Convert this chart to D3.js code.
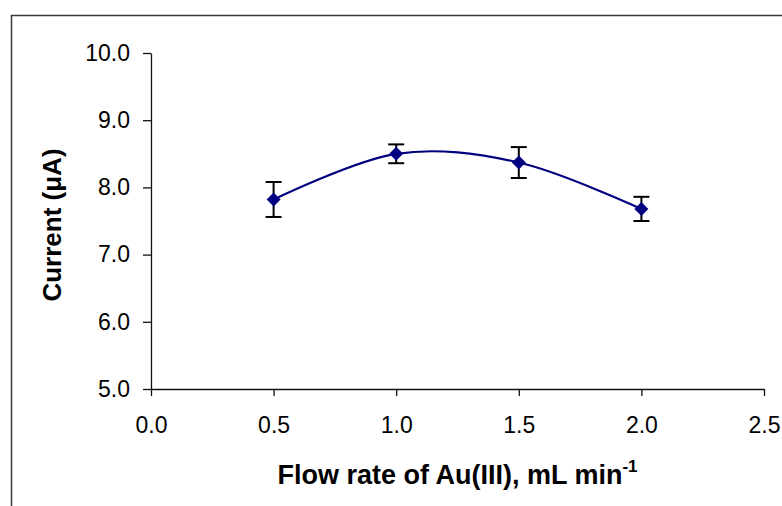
<!DOCTYPE html>
<html>
<head>
<meta charset="utf-8">
<script src="https://cdn.jsdelivr.net/npm/d3@7"></script>
<style>
  html, body { margin: 0; padding: 0; background: #fff; }
  svg { display: block; }
  text { font-family: "Liberation Sans", Arial, sans-serif; fill: #000; }
</style>
</head>
<body>
<svg id="chart" width="782" height="506"></svg>
<script>
// Flow rate of Au(III) (mL/min) vs. measured current (µA), with error bars
const flowRates = [0.5, 1.0, 1.5, 2.0];
const currents = [7.82, 8.50, 8.37, 7.68];
const errors = [0.26, 0.14, 0.23, 0.18];
const xTicks = [0.0, 0.5, 1.0, 1.5, 2.0, 2.5];
const yTicks = [5.0, 6.0, 7.0, 8.0, 9.0, 10.0];

const svg = d3.select("#chart");

// outer chart border (extends past the right and bottom edges)
svg.append("rect")
  .attr("x", 11.5).attr("y", 15.5)
  .attr("width", 820).attr("height", 620)
  .attr("fill", "none").attr("stroke", "#3a3a3a").attr("stroke-width", 1.5);

const plot = { left: 151, right: 764, top: 53, bottom: 389 };

const x = d3.scaleLinear().domain([0, 2.5]).range([plot.left, plot.right]);
const y = d3.scaleLinear().domain([5, 10]).range([plot.bottom, plot.top]);

const fmt = d3.format(".1f");

// y axis
const gy = svg.append("g")
  .attr("transform", `translate(${plot.left},0)`)
  .call(d3.axisLeft(y).tickValues(yTicks).tickFormat(fmt).tickSize(8).tickSizeOuter(0).tickPadding(13));

// x axis
const gx = svg.append("g")
  .attr("transform", `translate(0,${plot.bottom})`)
  .call(d3.axisBottom(x).tickValues(xTicks).tickFormat(fmt).tickSize(7).tickSizeOuter(0).tickPadding(21));

[gx, gy].forEach(g => {
  g.select(".domain").attr("stroke", "#111").attr("stroke-width", 1.3);
  g.selectAll(".tick line").attr("stroke", "#111").attr("stroke-width", 1.3);
  g.selectAll(".tick text")
    .style("font-family", '"Liberation Sans", Arial, sans-serif')
    .style("font-size", "23px")
    .attr("fill", "#000");
});

// smoothed connecting line
const line = d3.line()
  .x((d, i) => x(flowRates[i]))
  .y(d => y(d))
  .curve(d3.curveCardinal.tension(0));

svg.append("path")
  .datum(currents)
  .attr("d", line)
  .attr("fill", "none")
  .attr("stroke", "#000080")
  .attr("stroke-width", 2.2);

// error bars
const cap = 8;
const eb = svg.append("g").attr("stroke", "#000").attr("stroke-width", 2);
currents.forEach((c, i) => {
  const cx = x(flowRates[i]);
  const yTop = y(c + errors[i]);
  const yBot = y(c - errors[i]);
  eb.append("line").attr("x1", cx).attr("x2", cx).attr("y1", yTop).attr("y2", yBot);
  eb.append("line").attr("x1", cx - cap).attr("x2", cx + cap).attr("y1", yTop).attr("y2", yTop);
  eb.append("line").attr("x1", cx - cap).attr("x2", cx + cap).attr("y1", yBot).attr("y2", yBot);
});

// diamond markers
const r = 7;
svg.append("g").selectAll("path")
  .data(currents)
  .join("path")
  .attr("d", (d, i) => {
    const cx = x(flowRates[i]), cy = y(d);
    return `M${cx},${cy - r}L${cx + r},${cy}L${cx},${cy + r}L${cx - r},${cy}Z`;
  })
  .attr("fill", "#000080");

// axis titles
const yTitle = svg.append("text")
  .attr("transform", `translate(61,225) rotate(-90)`)
  .attr("text-anchor", "middle")
  .style("font-size", "26px")
  .style("font-weight", "bold");
yTitle.append("tspan").text("Current (");
yTitle.append("tspan").text("\u03bc");
yTitle.append("tspan").text("A)");

const xTitle = svg.append("text")
  .attr("x", (plot.left + plot.right) / 2)
  .attr("y", 484)
  .attr("text-anchor", "middle")
  .style("font-size", "27px")
  .style("font-weight", "bold");
xTitle.append("tspan").text("Flow rate of Au(III), mL min");
xTitle.append("tspan").attr("dy", -12).style("font-size", "17px").text("-1");
</script>
</body>
</html>
